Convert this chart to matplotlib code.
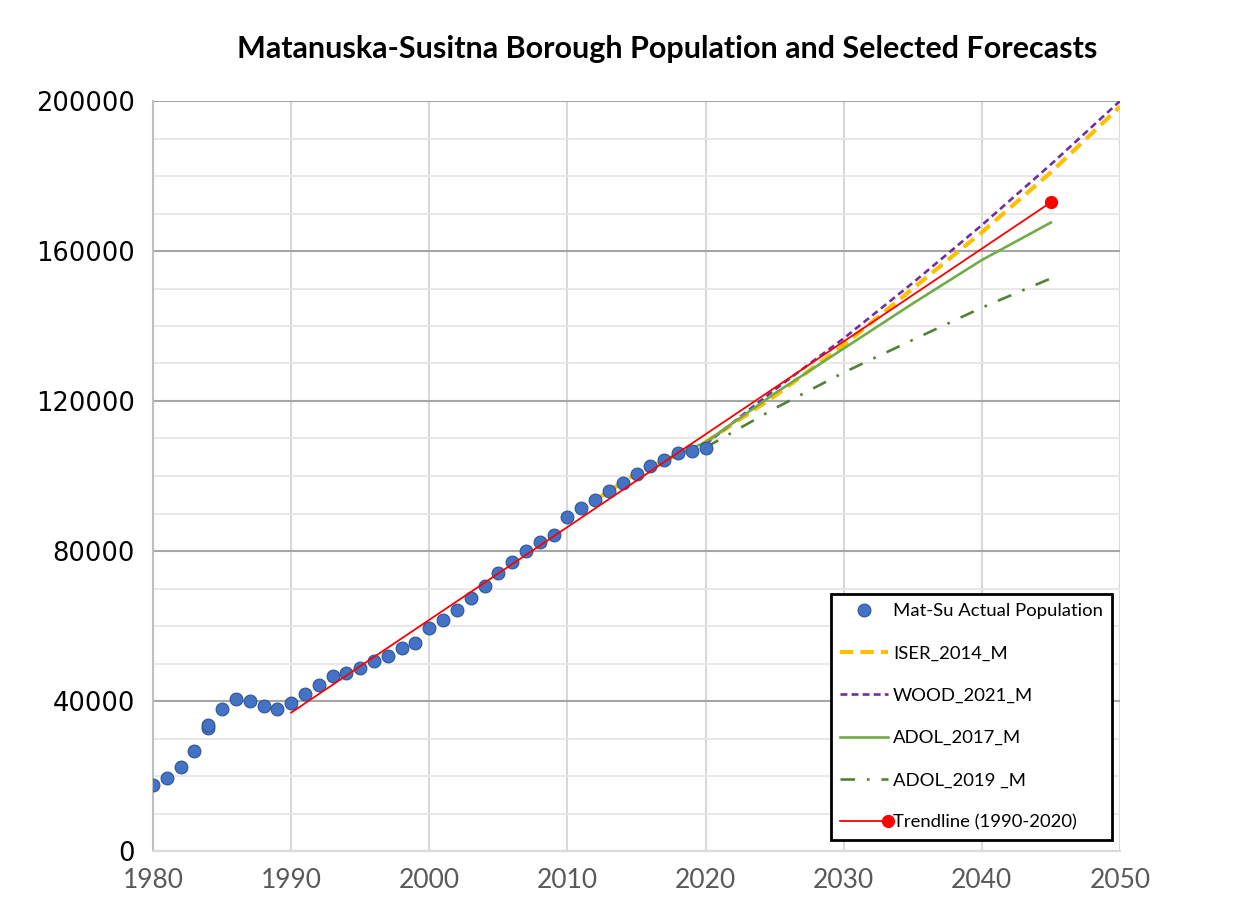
import numpy as np
import matplotlib
matplotlib.use("Agg")
import matplotlib.pyplot as plt
from matplotlib.ticker import MultipleLocator
from matplotlib.legend_handler import HandlerLine2D

# actual population (two estimates in 1984)
act_years = [1980, 1981, 1982, 1983, 1984, 1984, 1985, 1986, 1987, 1988, 1989,
             1990, 1991, 1992, 1993, 1994, 1995, 1996, 1997, 1998, 1999,
             2000, 2001, 2002, 2003, 2004, 2005, 2006, 2007, 2008, 2009,
             2010, 2011, 2012, 2013, 2014, 2015, 2016, 2017, 2018, 2019, 2020]
act_pop = [17700, 19500, 22300, 26800, 32700, 33600, 38000, 40600, 40100, 38700, 37900,
           39500, 41800, 44400, 46700, 47600, 48800, 50600, 52100, 54100, 55600,
           59400, 61600, 64300, 67500, 70600, 74100, 77200, 79900, 82500, 84400,
           89100, 91600, 93700, 96000, 98000, 100400, 102600, 104300, 106000, 106700, 107400]

iser_years = [2012, 2015, 2020, 2025, 2030, 2035, 2040, 2045, 2050]
iser_pop = [93500, 100800, 109000, 121300, 134900, 150000, 165000, 181000, 198500]

wood_years = [2020, 2025, 2030, 2035, 2040, 2045, 2050]
wood_pop = [108500, 123000, 136700, 151500, 166900, 183100, 200000]

adol17_years = [2017, 2020, 2025, 2030, 2035, 2040, 2045]
adol17_pop = [104300, 109000, 122000, 134000, 146000, 157600, 167600]

adol19_years = [2020, 2025, 2030, 2035, 2040, 2045]
adol19_pop = [107600, 118000, 127600, 136300, 144900, 152700]

trend_years = [1990, 2045]
trend_pop = [36900, 173000]


class HandlerEndMarker(HandlerLine2D):
    # legend line with the marker at the right end
    def create_artists(self, *args, **kwargs):
        arts = super().create_artists(*args, **kwargs)
        for a in arts:
            a.set_markevery([2])
        return arts


fig = plt.figure(figsize=(12.52, 9.07), dpi=100)
ax = fig.add_axes([153/1252, 1 - 851/907, 967/1252, 750/907])

ax.plot(iser_years, iser_pop, color='#FFC000', lw=3.0, ls=(0, (3.2, 1.7)),
        label='ISER_2014_M', zorder=3)
ax.plot(wood_years, wood_pop, color='#7030A0', lw=1.9, ls=(0, (2.6, 1.6)),
        label='WOOD_2021_M', zorder=3)
ax.plot(adol17_years, adol17_pop, color='#70AD47', lw=1.9,
        label='ADOL_2017_M', zorder=3)
ax.plot(adol19_years, adol19_pop, color='#548235', lw=1.9, ls=(0, (5.5, 4.5, 1, 4.5)),
        label='ADOL_2019 _M', zorder=3)
ax.plot(act_years, act_pop, 'o', ms=9.2, color='#4472C4', mec='#2F5597', mew=0.8,
        label='Mat-Su Actual Population', zorder=4)
trend, = ax.plot(trend_years, trend_pop, color='#FF0000', lw=1.3, marker='o', ms=8.5,
                 markevery=[1], label='Trendline (1990-2020)', zorder=5)

ax.set_xlim(1980, 2050)
ax.set_ylim(0, 200000)
ax.xaxis.set_major_locator(MultipleLocator(10))
ax.yaxis.set_major_locator(MultipleLocator(40000))
ax.yaxis.set_minor_locator(MultipleLocator(10000))

ax.grid(axis='x', which='major', color='#d9d9d9', lw=1.5, zorder=0)
ax.grid(axis='y', which='major', color='#a6a6a6', lw=1.5, zorder=0)
ax.grid(axis='y', which='minor', color='#e6e6e6', lw=1.3, zorder=0)
ax.set_axisbelow(True)
for s in ['top', 'right']:
    ax.spines[s].set_visible(False)
ax.spines['left'].set_color('#bfbfbf')
ax.spines['bottom'].set_color('#d9d9d9')
ax.spines['left'].set_linewidth(1.5)
ax.spines['bottom'].set_linewidth(1.5)

ax.tick_params(axis='both', which='both', length=0)
ax.tick_params(axis='y', pad=13)
ax.tick_params(axis='x', pad=12)
for t in ax.get_yticklabels():
    t.set_fontfamily('DejaVu Sans')
    t.set_fontsize(18.5)
    t.set_color('#000000')
for t in ax.get_xticklabels():
    t.set_fontfamily('Lato')
    t.set_fontsize(19)
    t.set_color('#595959')

fig.text(0.533, 0.946, 'Matanuska-Susitna Borough Population and Selected Forecasts',
         ha='center', va='center', fontsize=22, fontweight='bold', family='Lato')

handles, labels = ax.get_legend_handles_labels()
order = [4, 0, 1, 2, 3, 5]
leg = ax.legend([handles[i] for i in order], [labels[i] for i in order],
                loc='lower right', bbox_to_anchor=(0.9917, 0.0147), borderaxespad=0,
                prop={'family': 'Lato', 'size': 13.3}, labelspacing=1.42,
                handlelength=2.6, handletextpad=0.25, borderpad=0.5,
                numpoints=1, fancybox=False, framealpha=1,
                handler_map={trend: HandlerEndMarker()})
leg.get_frame().set_edgecolor('black')
leg.get_frame().set_linewidth(2)
leg.set_zorder(10)

fig.savefig('out.png', dpi=100, facecolor='white')
